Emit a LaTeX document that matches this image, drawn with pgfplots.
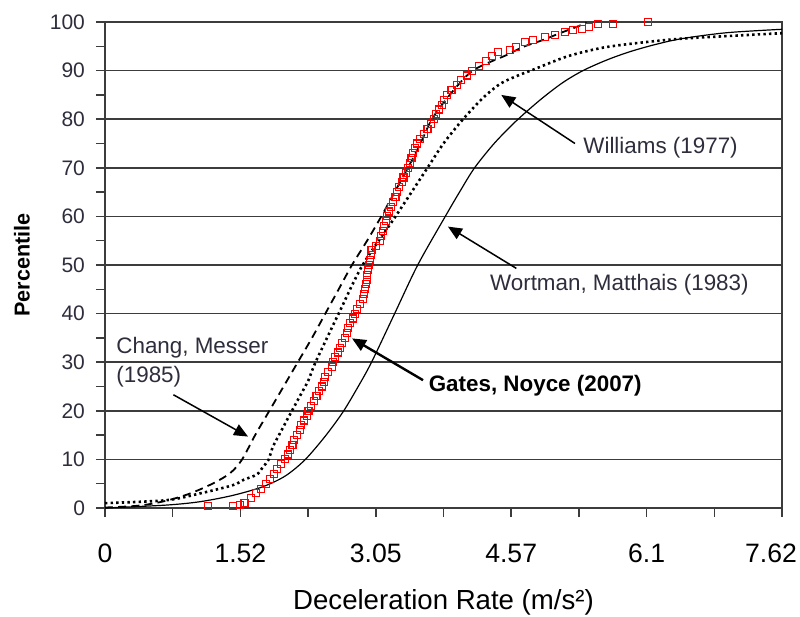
\documentclass[border=0pt]{standalone}
\usepackage{fontspec}
\setmainfont{Liberation Sans}
\usepackage{pgfplots}
\pgfplotsset{compat=1.18}
\usetikzlibrary{arrows.meta}

\definecolor{txt}{RGB}{45,45,60}
\definecolor{gridc}{RGB}{60,60,60}

\begin{document}
\begin{tikzpicture}
\path[use as bounding box] (-52.5pt,-54.5pt) rectangle (347.5pt,254pt);
\begin{axis}[
    scale only axis,
    width=338.5pt, height=243pt,
    xmin=0, xmax=7.62, ymin=0, ymax=100,
    clip=false,
    axis line style={gridc, line width=0.75pt},
    tick align=outside,
    xtick pos=bottom, ytick pos=left,
    major tick length=4.5pt, minor tick length=4.5pt,
    tick style={gridc, line width=0.75pt},
    xtick={0,1.524,3.048,4.572,6.096,7.62},
    xticklabels={0,1.52,3.05,4.57,6.1,\kern-11pt 7.62},
    minor xtick={0.762,2.286,3.81,5.334,6.858},
    ytick={0,10,...,100},
    minor ytick={5,15,...,95},
    ymajorgrids=true,
    grid style={gridc, line width=0.75pt},
    /pgf/number format/assume math mode=true,
    xticklabel style={font=\fontsize{13.3}{15}\selectfont, black, yshift=-10pt},
    yticklabel style={font=\fontsize{10.5}{12}\selectfont, txt, xshift=-2pt},
    xlabel={Deceleration Rate (m/s²)},
    xlabel style={font=\fontsize{13.8}{16}\selectfont, black,
        at={(axis description cs:0.5,-0.1934)}, anchor=center},
    ylabel={Percentile},
    ylabel style={font=\fontsize{10.8}{13}\selectfont\bfseries, black,
        at={(axis description cs:-0.1226,0.5)}, anchor=center},
]
% Gates, Noyce (2007) - observed
\addplot[only marks, mark=square, mark size=1.75pt, mark options={red, line width=0.55pt}] coordinates {
(1.16,0.4)(1.44,0.4)(1.52,0.6)(1.57,1)(1.64,2)(1.70,3)(1.76,4)(1.81,5)(1.86,6)(1.90,7)
(1.94,8)(1.98,9)(2.03,10)(2.06,11)(2.08,12)(2.11,13)(2.13,14)(2.16,15)(2.19,16)(2.21,17)
(2.24,18)(2.27,19)(2.29,20)(2.32,21)(2.35,22)(2.38,23)(2.41,24)(2.44,25)(2.46,26)(2.48,27)
(2.51,28)(2.55,29)(2.57,30)(2.59,31)(2.62,32)(2.64,33)(2.67,34)(2.70,35)(2.72,36)(2.74,37)
(2.76,38)(2.79,39)(2.81,40)(2.84,41)(2.87,42)(2.90,43)(2.92,44)(2.93,45)(2.94,46)(2.95,47)
(2.95,48)(2.96,49)(2.97,50)(2.98,51)(2.99,52)(3.00,53)(3.05,54)(3.10,55)(3.11,56)(3.13,57)
(3.14,58)(3.16,59)(3.17,60)(3.20,61)(3.22,62)(3.24,63)(3.27,64)(3.29,65)(3.31,66)(3.34,67)
(3.36,68)(3.39,69)(3.41,70)(3.43,71)(3.45,72)(3.47,73)(3.49,74)(3.51,75)(3.55,76)(3.59,77)
(3.63,78)(3.67,79)(3.70,80)(3.73,81)(3.76,82)(3.79,83)(3.82,84)(3.85,85)(3.90,86)(3.96,87)
(4.01,88)(4.07,89)(4.13,90)(4.21,91)(4.29,92)(4.36,93)(4.42,93.8)(4.56,94.2)(4.63,94.9)
(4.73,95.9)(4.82,96.3)(4.95,97.0)(5.06,97.4)(5.18,98.0)(5.27,98.4)(5.37,98.6)(5.45,99.0)
(5.55,99.5)(5.72,99.5)(6.11,100)
};
% Wortman, Matthais (1983)
\addplot[black, line width=0.6pt, smooth] coordinates {
(0,0)(0.69,0.6)(1.07,1.3)(1.44,2.6)(1.78,4.4)(2.03,6.6)(2.25,9.9)(2.48,14.8)(2.68,19.8)
(2.85,25)(3.0,30)(3.26,40)(3.52,50)(3.83,60)(4.0,65.3)(4.16,70)(4.38,75)(4.62,79.5)
(4.9,84)(5.15,87.5)(5.38,90)(5.65,92.2)(5.91,93.9)(6.2,95.4)(6.5,96.6)(7.0,97.8)(7.62,98.5)
};
% Williams (1977)
\addplot[black, line width=1.3pt, dash pattern=on 1.2pt off 1.6pt, smooth] coordinates {
(0,1.0)(0.69,1.6)(1.07,3.0)(1.44,4.7)(1.56,5.8)(1.71,6.9)(1.78,8.5)(1.84,9.9)(1.89,12.6)
(1.97,15.4)(2.06,18.5)(2.19,22.9)(2.29,26.3)(2.37,30)(2.63,40)(2.90,50)(3.27,60)(3.63,70)
(3.81,75)(4.03,80)(4.25,84.3)(4.45,87.3)(4.65,89)(4.82,90.2)(5.20,92.9)(5.57,94.6)
(5.91,95.5)(6.44,96.5)(7.0,97.1)(7.62,97.7)
};
% Chang, Messer (1985)
\addplot[black, line width=0.9pt, dash pattern=on 4pt off 2.6pt, smooth] coordinates {
(0,0.1)(0.39,0.5)(0.69,1.5)(0.96,3.0)(1.22,5.1)(1.41,7.2)(1.54,9.9)(1.69,15)(1.85,20)
(2.01,25)(2.17,30)(2.33,35)(2.48,40)(2.63,45)(2.78,50)(2.95,55)(3.11,60)(3.26,65)(3.41,70)
(3.55,75)(3.68,80)(3.88,85)(4.14,90)(4.52,93.2)(4.71,94.9)(4.93,96.3)(5.12,97.7)(5.31,99.0)(5.42,99.9)
};
% annotations
\tikzset{ann/.style={font=\fontsize{11.2}{13}\selectfont, txt, inner sep=0pt},
         arr/.style={-{Triangle[length=7pt,width=6pt]}, line width=0.75pt, black}}
\node[ann, anchor=west] at (axis cs:5.38,74.1) {Williams (1977)};
\draw[arr] (axis cs:5.29,75.0) -- (axis cs:4.46,85.0);
\node[ann, anchor=west] at (axis cs:4.33,45.9) {Wortman, Matthais (1983)};
\draw[arr] (axis cs:4.63,49.3) -- (axis cs:3.86,57.9);
\node[ann, anchor=west, black, font=\fontsize{11.2}{13}\selectfont\bfseries] at (axis cs:3.64,25.1) {Gates, Noyce (2007)};
\draw[arr, line width=1.2pt] (axis cs:3.58,26.3) -- (axis cs:2.78,34.9);
\node[ann, anchor=west] at (axis cs:0.124,32.9) {Chang, Messer};
\node[ann, anchor=west] at (axis cs:0.124,27.0) {(1985)};
\draw[arr] (axis cs:0.77,23.3) -- (axis cs:1.61,14.7);
\end{axis}
\end{tikzpicture}
\end{document}
